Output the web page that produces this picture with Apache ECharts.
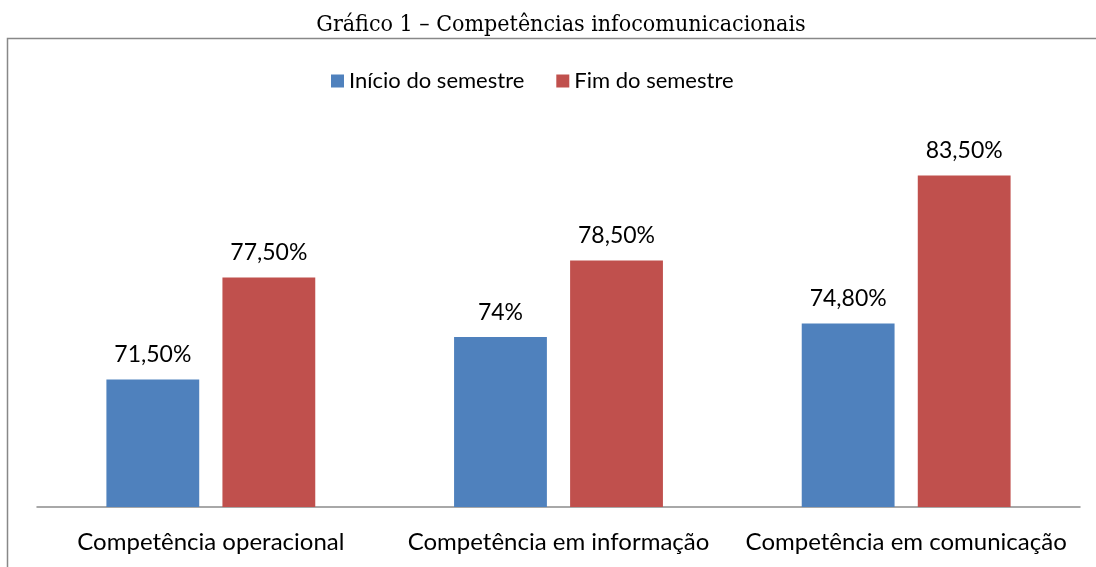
<!DOCTYPE html>
<html>
<head>
<meta charset="utf-8">
<script src="https://cdn.jsdelivr.net/npm/echarts@6/dist/echarts.min.js"></script>
<style>
  html, body { margin: 0; padding: 0; background: #fff; }
  #chart { width: 1096px; height: 567px; }
</style>
</head>
<body>
<div id="chart"></div>
<script>
var categories = ["Competência operacional", "Competência em informação", "Competência em comunicação"];
var inicio = [71.5, 74, 74.8];
var fim = [77.5, 78.5, 83.5];
var inicioLabels = ["71,50%", "74%", "74,80%"];
var fimLabels = ["77,50%", "78,50%", "83,50%"];

var chart = echarts.init(document.getElementById("chart"));
var font = "Lato, 'Open Sans', sans-serif";

var option = {
  animation: false,
  title: {
    text: "Gráfico 1 – Competências infocomunicacionais",
    left: 556,
    textAlign: "center",
    top: 9,
    textStyle: { fontFamily: "'DejaVu Serif Condensed', 'DejaVu Serif', serif", fontSize: 23, fontWeight: "normal", color: "#000" }
  },
  legend: {
    top: 65,
    left: 326,
    itemWidth: 13,
    itemHeight: 13,
    itemGap: 32,
    icon: "rect",
    textStyle: { fontFamily: font, fontSize: 22, color: "#000" }
  },
  graphic: [
    {
      type: "rect",
      shape: { x: 7.5, y: 38.5, width: 1200, height: 600 },
      style: { fill: "none", stroke: "#888", lineWidth: 1.5 },
      silent: true
    }
  ],
  grid: { left: 37, right: 16, top: 133, bottom: 60 },
  xAxis: {
    type: "category",
    data: categories,
    axisTick: { show: false },
    axisLine: { lineStyle: { color: "#8c8c8c", width: 1.5 } },
    axisLabel: { interval: 0, fontFamily: font, fontSize: 24, color: "#000", margin: 23 }
  },
  yAxis: {
    type: "value",
    min: 64,
    max: 86,
    show: false,
    splitLine: { show: false }
  },
  series: [
    {
      name: "Início do semestre",
      type: "bar",
      data: inicio,
      barWidth: "26.7%",
      barGap: "25%",
      itemStyle: { color: "#4f81bd" },
      label: {
        show: true,
        position: "top",
        distance: 13,
        fontFamily: font,
        fontSize: 23,
        color: "#000",
        formatter: function (p) { return inicioLabels[p.dataIndex]; }
      }
    },
    {
      name: "Fim do semestre",
      type: "bar",
      data: fim,
      barWidth: "26.7%",
      itemStyle: { color: "#c0504d" },
      label: {
        show: true,
        position: "top",
        distance: 13,
        fontFamily: font,
        fontSize: 23,
        color: "#000",
        formatter: function (p) { return fimLabels[p.dataIndex]; }
      }
    }
  ]
};

chart.setOption(option);
</script>
</body>
</html>
